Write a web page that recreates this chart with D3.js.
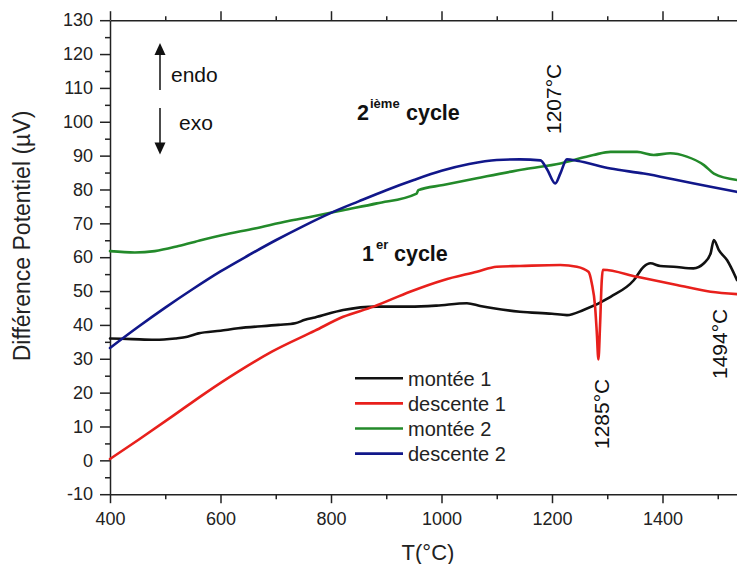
<!DOCTYPE html>
<html>
<head>
<meta charset="utf-8">
<script src="https://cdn.jsdelivr.net/npm/d3@7/dist/d3.min.js"></script>
<style>
  html, body { margin: 0; padding: 0; background: #fff; }
  svg { display: block; font-family: "Liberation Sans", Arial, sans-serif; }
</style>
</head>
<body>
<svg id="chart" width="737" height="564"></svg>
<script>
// ---------------- data ----------------
const montee1T = [400, 440, 481, 518, 540, 560, 600, 632, 705, 735, 753, 771, 822, 883, 943, 991, 1046, 1070, 1094, 1142, 1200, 1227, 1257, 1306, 1348, 1366, 1378, 1396, 1420, 1456, 1475, 1487, 1493, 1502, 1517, 1535];
const montee1V = [36, 35.8, 35.6, 36, 36.5, 37.5, 38.3, 39, 40, 40.5, 41.5, 42.2, 44.4, 45.4, 45.4, 45.7, 46.4, 45.6, 44.9, 43.9, 43.3, 42.9, 44.4, 48.3, 53.2, 57.2, 58.2, 57.4, 57.2, 56.7, 58.2, 61.1, 65.1, 62.1, 59.1, 53.2];

const descente1T = [400, 451, 512, 572, 632, 693, 771, 822, 877, 943, 1003, 1064, 1100, 1142, 1215, 1245, 1266, 1272, 1278, 1281, 1284, 1287, 1290, 1292, 1354, 1426, 1487, 1535];
const descente1V = [0.4, 6, 12.9, 19.8, 26.2, 32.1, 38.3, 42.4, 45.4, 49.8, 53.2, 55.7, 57.2, 57.4, 57.7, 57.2, 55.7, 52.3, 45.4, 38, 29.8, 40, 53, 56.3, 54.2, 51.8, 49.8, 49.1];

const montee2T = [400, 445, 481, 524, 566, 602, 662, 723, 762, 822, 883, 955, 958, 1003, 1064, 1150, 1215, 1275, 1306, 1354, 1384, 1414, 1444, 1475, 1493, 1535];
const montee2V = [61.8, 61.4, 61.8, 63.3, 65.1, 66.5, 68.5, 70.7, 71.9, 73.9, 75.9, 78.8, 79.8, 81.3, 83.3, 86, 87.7, 90.2, 91.1, 91.1, 90.2, 90.7, 89.7, 87.2, 84.7, 82.8];

const descente2T = [400, 450, 500, 550, 600, 650, 700, 750, 800, 850, 900, 950, 1000, 1050, 1100, 1142, 1179, 1191, 1206, 1215, 1227, 1245, 1306, 1366, 1426, 1487, 1535];
const descente2V = [33.2, 39.3, 45.1, 50.6, 55.8, 60.5, 65, 69.2, 73.1, 76.5, 79.8, 82.8, 85.5, 87.5, 88.7, 88.9, 88.6, 86, 81.8, 84.7, 88.9, 88.5, 86.2, 84.7, 82.8, 80.8, 79.3];

const seriesNames = ["montée 1", "descente 1", "montée 2", "descente 2"];
const seriesColors = ["#111111", "#e8201c", "#238a2a", "#11178a"];

const xMajorTicks = [400, 600, 800, 1000, 1200, 1400];
const xMinorTicks = [500, 700, 900, 1100, 1300, 1500];
const yMajorTicks = [-10, 0, 10, 20, 30, 40, 50, 60, 70, 80, 90, 100, 110, 120, 130];
const yMinorTicks = [-5, 5, 15, 25, 35, 45, 55, 65, 75, 85, 95, 105, 115, 125];

const peakLabels = ["1207°C", "1285°C", "1494°C"];

// ---------------- chart ----------------
const svg = d3.select("#chart");
const x = d3.scaleLinear().domain([400, 1600]).range([110, 773]);
const y = d3.scaleLinear().domain([-10, 130]).range([494.2, 20.2]);

const axisColor = "#222";
const fontTick = 18;

function styleAxis(g, showText) {
  g.selectAll("path.domain").attr("stroke", axisColor).attr("stroke-width", 1.5);
  g.selectAll(".tick line").attr("stroke", axisColor).attr("stroke-width", 1.5);
  g.selectAll(".tick text").attr("fill", axisColor).style("font-size", fontTick + "px")
    .style("font-family", '"Liberation Sans", Arial, sans-serif');
  if (!showText) g.selectAll(".tick text").remove();
}

// bottom axis
const gB = svg.append("g").attr("transform", `translate(0,${y(-10)})`)
  .call(d3.axisBottom(x).tickValues(xMajorTicks).tickSize(9).tickSizeOuter(0).tickPadding(9).tickFormat(d3.format("d")));
styleAxis(gB, true);
const gBm = svg.append("g").attr("transform", `translate(0,${y(-10)})`)
  .call(d3.axisBottom(x).tickValues(xMinorTicks).tickSize(5).tickSizeOuter(0).tickFormat(""));
gBm.select("path.domain").remove();
styleAxis(gBm, false);

// top axis
const gT = svg.append("g").attr("transform", `translate(0,${y(130)})`)
  .call(d3.axisTop(x).tickValues(xMajorTicks).tickSize(9).tickSizeOuter(0).tickFormat(""));
styleAxis(gT, false);
const gTm = svg.append("g").attr("transform", `translate(0,${y(130)})`)
  .call(d3.axisTop(x).tickValues(xMinorTicks).tickSize(4).tickSizeOuter(0).tickFormat(""));
gTm.select("path.domain").remove();
styleAxis(gTm, false);

// left axis
const gL = svg.append("g").attr("transform", `translate(${x(400)},0)`)
  .call(d3.axisLeft(y).tickValues(yMajorTicks).tickSize(10).tickSizeOuter(0).tickPadding(7).tickFormat(d3.format("d")));
styleAxis(gL, true);
gL.selectAll(".tick text").text(d => d < 0 ? "-" + Math.abs(d) : d);
const gLm = svg.append("g").attr("transform", `translate(${x(400)},0)`)
  .call(d3.axisLeft(y).tickValues(yMinorTicks).tickSize(5).tickSizeOuter(0).tickFormat(""));
gLm.select("path.domain").remove();
styleAxis(gLm, false);

// axis titles
svg.append("text").attr("x", 428).attr("y", 560).attr("text-anchor", "middle")
  .style("font-size", "22px").attr("fill", axisColor).text("T(°C)");
svg.append("text").attr("transform", "translate(30,236) rotate(-90)").attr("text-anchor", "middle")
  .style("font-size", "23px").attr("fill", axisColor).text("Différence Potentiel (µV)");

// series
const seriesT = [montee1T, descente1T, montee2T, descente2T];
const seriesV = [montee1V, descente1V, montee2V, descente2V];
const line = d3.line().x(d => x(d[0])).y(d => y(d[1])).curve(d3.curveMonotoneX);
seriesT.forEach((ts, i) => {
  const pts = ts.map((t, j) => [t, seriesV[i][j]]);
  svg.append("path").datum(pts).attr("d", line).attr("fill", "none")
    .attr("stroke", seriesColors[i]).attr("stroke-width", 2.6)
    .attr("stroke-linejoin", "round").attr("stroke-linecap", "round");
});

// legend
const leg = svg.append("g");
seriesNames.forEach((n, i) => {
  const ly = 378.3 + i * 25.1;
  leg.append("line").attr("x1", 355).attr("x2", 403).attr("y1", ly).attr("y2", ly)
    .attr("stroke", seriesColors[i]).attr("stroke-width", 2.6);
  leg.append("text").attr("x", 408).attr("y", ly + 7.5).style("font-size", "20px")
    .attr("fill", axisColor).text(n);
});

// endo / exo arrows
const arr = svg.append("g").attr("fill", "#111").attr("stroke", "#111");
arr.append("line").attr("x1", 160).attr("x2", 160).attr("y1", 90).attr("y2", 54).attr("stroke-width", 1.5);
arr.append("path").attr("d", "M160,43 L154.5,55 L165.5,55 Z").attr("stroke", "none");
arr.append("line").attr("x1", 160).attr("x2", 160).attr("y1", 108).attr("y2", 144).attr("stroke-width", 1.5);
arr.append("path").attr("d", "M160,154.5 L154.5,142.5 L165.5,142.5 Z").attr("stroke", "none");
svg.append("text").attr("x", 171).attr("y", 82).style("font-size", "21px").attr("fill", "#111").text("endo");
svg.append("text").attr("x", 179).attr("y", 130).style("font-size", "21px").attr("fill", "#111").text("exo");

// cycle labels
svg.append("text").attr("x", 357).attr("y", 120).style("font-size", "21.5px").style("font-weight", "bold").attr("fill", "#111").text("2");
svg.append("text").attr("x", 370).attr("y", 108).style("font-size", "13px").style("font-weight", "bold").attr("fill", "#111").text("ième");
svg.append("text").attr("x", 406).attr("y", 120).style("font-size", "21.5px").style("font-weight", "bold").attr("fill", "#111").text("cycle");
svg.append("text").attr("x", 362).attr("y", 260.5).style("font-size", "21.5px").style("font-weight", "bold").attr("fill", "#111").text("1");
svg.append("text").attr("x", 376).attr("y", 248.5).style("font-size", "13px").style("font-weight", "bold").attr("fill", "#111").text("er");
svg.append("text").attr("x", 394).attr("y", 260.5).style("font-size", "21.5px").style("font-weight", "bold").attr("fill", "#111").text("cycle");

// peak labels (rotated)
const peakPos = [[561, 134], [609, 449], [727, 379]];
peakLabels.forEach((t, i) => {
  svg.append("text").attr("transform", `translate(${peakPos[i][0]},${peakPos[i][1]}) rotate(-90)`)
    .style("font-size", "21px").attr("fill", "#111").text(t);
});
</script>
</body>
</html>
